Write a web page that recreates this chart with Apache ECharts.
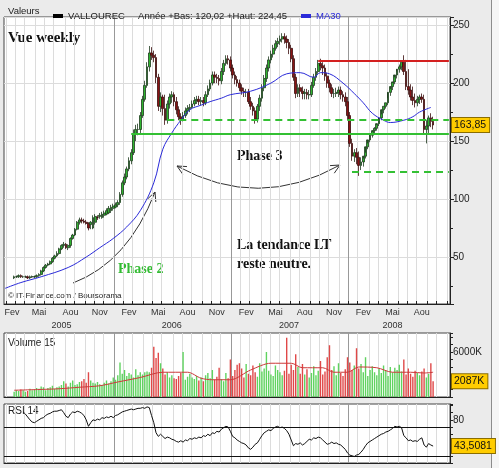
<!DOCTYPE html>
<html>
<head>
<meta charset="utf-8">
<script src="https://cdn.jsdelivr.net/npm/echarts@6/dist/echarts.min.js"></script>
<style>
  html, body { margin: 0; padding: 0; background: #ebebeb; }
  #chart { width: 499px; height: 468px; }
</style>
</head>
<body>
<div id="chart"></div>
<script>
// weekly categories: Friday dates from the left edge of the chart
const weekStart = Date.UTC(2005, 0, 28)
const weekCount = 198
const DAY = 86400000
const weeks = []
for (let i = 0; i < weekCount; i++) {
  weeks.push(new Date(weekStart + i * 7 * DAY).toISOString().slice(0, 10))
}
const weekOf = (d) => weeks[Math.round((Date.parse(d) - weekStart) / (7 * DAY))]

const monthNames = ['Jan', 'Fev', 'Mar', 'Avr', 'Mai', 'Jun', 'Jul', 'Aou', 'Sep', 'Oct', 'Nov', 'Dec']
const labelMonths = [1, 4, 7, 10]
const yearLabelWeeks = ['2005-07-22', '2006-06-30', '2007-06-29', '2008-05-16']

// VALLOUREC weekly candles (first candle = week index 4)
const firstCandleWeek = 4
const opens = [
  32, 33, 33, 34, 33, 33, 33, 32, 33, 33,
  33, 34, 35, 38, 41, 43, 44, 46, 49, 51,
  53, 57, 60, 61, 58, 60, 66, 69, 74, 80,
  82, 81, 80, 79, 78, 75, 80, 84, 85, 84,
  86, 87, 88, 90, 92, 93, 95, 97, 104, 114,
  119, 126, 133, 140, 156, 160, 160, 172, 186, 198,
  214, 226, 224, 222, 205, 180, 188, 178, 168, 182,
  188, 190, 184, 177, 171, 169, 172, 176, 178, 179,
  182, 185, 186, 184, 185, 183, 190, 195, 200, 207,
  205, 204, 202, 210, 217, 221, 220, 213, 207, 203,
  200, 196, 193, 192, 192, 184, 180, 176, 169, 180,
  187, 196, 204, 213, 220, 225, 230, 234, 236, 238,
  240, 238, 235, 230, 221, 205, 191, 196, 193, 191,
  192, 190, 190, 198, 205, 210, 217, 215, 213, 206,
  200, 196, 191, 191, 192, 194, 190, 188, 184, 172,
  148, 137, 140, 136, 129, 132, 137, 145, 151, 155,
  159, 161, 165, 170, 177, 180, 183, 192, 197, 201,
  207, 212, 214, 218, 210, 197, 194, 188, 185, 183,
  186, 188, 186, 160, 163, 170, 167
]
const closes = [
  33, 33, 34, 33, 33, 33, 32, 33, 33, 33,
  34, 35, 38, 41, 43, 44, 46, 49, 51, 53,
  57, 60, 61, 58, 60, 66, 69, 74, 80, 82,
  81, 80, 79, 75, 80, 84, 85, 84, 86, 87,
  88, 90, 92, 93, 94, 95, 97, 104, 114, 119,
  126, 133, 140, 156, 160, 160, 172, 186, 198, 214,
  226, 224, 222, 205, 180, 188, 178, 168, 182, 188,
  190, 184, 177, 171, 169, 172, 176, 178, 179, 182,
  185, 186, 184, 185, 183, 190, 195, 200, 207, 205,
  204, 202, 210, 217, 221, 220, 213, 207, 203, 200,
  196, 193, 192, 192, 184, 180, 176, 169, 180, 187,
  196, 204, 213, 220, 225, 230, 234, 236, 238, 240,
  238, 235, 230, 221, 205, 191, 196, 193, 191, 192,
  190, 190, 198, 205, 210, 217, 215, 213, 206, 200,
  196, 191, 191, 192, 194, 190, 188, 184, 172, 148,
  137, 140, 136, 129, 132, 137, 145, 151, 155, 159,
  161, 165, 170, 177, 180, 183, 192, 197, 201, 207,
  212, 214, 218, 210, 197, 194, 188, 185, 183, 186,
  188, 186, 160, 163, 170, 167, 163.85
]
const lows = [
  31, 32, 32, 32, 32, 32, 31, 31, 32, 32,
  32, 33, 34, 37, 40, 42, 43, 45, 48, 50,
  52, 56, 58, 57, 56, 58, 65, 68, 73, 78,
  79, 79, 78, 73, 74, 74, 78, 82, 83, 83,
  84, 86, 87, 88, 90, 92, 93, 95, 102, 112,
  117, 124, 130, 138, 150, 155, 157, 170, 184, 196,
  210, 220, 218, 200, 176, 175, 172, 164, 165, 178,
  183, 180, 173, 168, 164, 167, 170, 173, 175, 178,
  180, 182, 181, 181, 180, 181, 188, 193, 198, 200,
  200, 198, 199, 207, 215, 216, 210, 204, 199, 197,
  193, 190, 188, 188, 182, 177, 172, 165, 166, 176,
  184, 193, 201, 210, 217, 222, 228, 231, 233, 235,
  234, 230, 225, 218, 202, 187, 188, 188, 186, 186,
  186, 186, 188, 196, 202, 208, 211, 207, 202, 196,
  192, 188, 187, 188, 188, 186, 184, 180, 168, 145,
  133, 132, 130, 120, 125, 128, 135, 143, 149, 153,
  157, 159, 163, 168, 174, 178, 181, 189, 194, 199,
  204, 209, 211, 207, 194, 190, 185, 181, 179, 180,
  182, 183, 156, 148, 157, 162, 160
]
const highs = [
  34, 34, 35, 35, 34, 34, 34, 34, 34, 34,
  35, 36, 39, 42, 44, 45, 47, 50, 52, 55,
  58, 61, 63, 62, 61, 67, 70, 75, 81, 84,
  84, 83, 82, 80, 81, 86, 87, 86, 88, 89,
  90, 92, 94, 95, 96, 97, 99, 106, 116, 122,
  128, 136, 143, 160, 164, 165, 175, 189, 202, 218,
  232, 231, 228, 225, 208, 192, 190, 190, 185, 191,
  193, 192, 188, 180, 174, 175, 179, 181, 182, 185,
  188, 189, 189, 188, 188, 193, 198, 203, 210, 210,
  208, 207, 213, 220, 224, 224, 223, 216, 210, 206,
  203, 199, 196, 195, 195, 188, 183, 179, 182, 190,
  199, 207, 216, 223, 228, 233, 237, 239, 241, 243,
  243, 241, 238, 233, 224, 208, 199, 199, 197, 195,
  195, 194, 201, 208, 213, 220, 221, 218, 216, 209,
  203, 199, 195, 196, 197, 197, 193, 192, 188, 175,
  152, 143, 144, 141, 136, 135, 140, 148, 154, 158,
  162, 164, 168, 173, 180, 183, 187, 195, 200, 205,
  210, 216, 218, 224, 220, 212, 199, 197, 191, 189,
  190, 191, 190, 168, 172, 174, 171
]
// weekly volume, thousands of shares
const volumes = [
  700, 900, 800, 1000, 900, 700, 800, 1100, 900, 1000,
  1200, 1100, 1400, 1300, 900, 1200, 1300, 1500, 1100, 1300,
  1400, 1600, 2100, 1800, 1400, 1900, 2200, 1600, 1700, 2000,
  2100, 2400, 1900, 3300, 2200, 1900, 1800, 2000, 1700, 1600,
  1900, 2200, 1800, 2100, 2600, 2300, 2900, 4600, 3100, 3600,
  2800, 3200, 3000, 2600, 3700, 2900, 3300, 3000, 3300, 3400,
  3300, 3900, 6700, 5200, 5900, 4500, 3800, 3000, 3300, 2600,
  2900, 2500, 2400, 2800, 3200, 6000, 2300, 2700, 3100, 2600,
  2400, 2800, 2200, 2600, 2100, 2900, 3200, 2500, 3600, 2300,
  2700, 3900, 2400, 2100, 3200, 2500, 5000, 2800, 3600, 4300,
  4500, 3800, 2600, 4400, 3100, 2900, 4200, 3300, 2700, 4500,
  3400, 3800, 6000, 3500, 3000, 2800, 4200, 3600, 3300, 2900,
  3500, 7900, 3100, 4300, 3600, 5700, 4000, 3100, 4400, 3000,
  3700, 2600, 3200, 4100, 2900, 3500, 4800, 3000, 3400, 5300,
  6900, 3600, 4100, 2900, 4500, 3200, 2800, 3700, 5300, 4600,
  3600, 4200, 6500, 3800, 4400, 3300, 5300, 2800, 3600, 4100,
  3300, 2900, 3800, 3200, 4200, 3500, 2800, 4000, 3300, 3900,
  3600, 4300, 3400, 5000, 3000, 3800, 3100, 2700, 3500, 3200,
  2900, 3400, 3800, 2600, 3100, 4500, 2087
]
// MA30 of the price, [week index, value]
const ma30Points = [
  [0, 23], [7, 28], [16, 33], [28, 41], [36, 50], [42, 58], [48, 66], [54, 76],
  [60, 90], [66, 114], [70, 143], [74, 157], [78, 168], [82, 177], [87, 181],
  [91, 184], [96, 187], [100, 190], [109, 193], [118, 200], [125, 208], [131, 209],
  [137, 205], [140, 209], [144, 208], [150, 200], [155, 191], [159, 183], [163, 174],
  [168, 168], [171, 166], [177, 168], [181, 171], [184, 175], [189, 179]
]
// volume moving average (15), [week index, value in K]
const volMaPoints = [
  [4, 900], [15, 1000], [24, 1100], [33, 1300], [42, 1500], [50, 2000], [60, 2600],
  [70, 3300], [81, 3300], [87, 2500], [92, 2300], [100, 2300], [109, 3600], [118, 4500],
  [127, 4500], [132, 3900], [141, 3900], [146, 3300], [152, 3300], [157, 4000],
  [165, 3900], [172, 3300], [180, 3300], [186, 3200], [190, 3300]
]
// RSI 14 (first value = week index 8)
const firstRsiWeek = 8
const rsi = [
  91, 88, 84, 80, 77, 76, 78, 80, 82, 83,
  86, 88, 89, 91, 92, 92, 93, 94, 90, 85,
  83, 88, 91, 90, 92, 91, 89, 86, 80, 71,
  76, 80, 79, 81, 80, 83, 82, 84, 83, 85,
  83, 86, 87, 89, 91, 92, 93, 94, 95, 94,
  95, 96, 96, 97, 96, 98, 97, 86, 76, 62,
  57, 60, 57, 54, 56, 55, 53, 52, 50, 49,
  51, 49, 52, 51, 54, 53, 55, 54, 56, 55,
  58, 57, 60, 58, 62, 61, 64, 63, 67, 69,
  71, 70, 64, 57, 55, 52, 50, 48, 47, 45,
  41, 39, 42, 46, 48, 53, 58, 62, 64, 66,
  65, 68, 70, 71, 69, 70, 68, 65, 60, 52,
  44, 47, 46, 48, 45, 47, 50, 53, 52, 55,
  54, 56, 55, 52, 49, 46, 47, 49, 47, 48,
  46, 45, 42, 39, 34, 31, 30, 29, 31, 32,
  35, 39, 44, 48, 50, 52, 54, 56, 58, 60,
  61, 63, 64, 66, 68, 71, 70, 71, 69, 58,
  55, 51, 52, 50, 51, 50, 53, 55, 45, 42,
  47, 45, 43.5081
]

// levels drawn on the price panel
const resistanceLevel = 219
const resistanceFrom = '2007-09-28'
const supportLevel = 156
const supportFrom = '2006-02-24'
const upperDashLevel = 168.5
const upperDashFrom = '2006-06-16'
const lowerDashLevel = 123.5
const lowerDashFrom = '2008-01-11'
const lastPrice = 163.85
const lastVolume = 2087
const lastRsi = 43.5081
const rsiBands = [70, 30]

const font = '"Liberation Sans", Arial, sans-serif'
const serif = '"Liberation Serif", "DejaVu Serif", serif'

const isMonthStart = (i) => +weeks[i].slice(8) <= 7
const isYearStart = (i) => weeks[i].slice(5, 7) === '01' && isMonthStart(i)
const isMidMonth = (i) => {
  const d = +weeks[i].slice(8)
  const m = +weeks[i].slice(5, 7) - 1
  return d >= 13 && d <= 19 && labelMonths.includes(m)
}

const candleData = weeks.map((_, i) => {
  const k = i - firstCandleWeek
  if (k < 0 || k >= closes.length) return ['-', '-', '-', '-']
  return [opens[k], closes[k], lows[k], highs[k]]
})
const volumeData = weeks.map((_, i) => {
  const k = i - firstCandleWeek
  if (k < 0 || k >= volumes.length) return '-'
  return {
    value: volumes[k],
    itemStyle: { color: closes[k] >= opens[k] ? '#5fd35f' : '#e04848' }
  }
})
const rsiData = weeks.map((_, i) => {
  const k = i - firstRsiWeek
  return k >= 0 && k < rsi.length ? rsi[k] : '-'
})
const lastWeek = weeks[weekCount - 1]

const grids = [
  { left: 4, right: 49, top: 17, height: 287 },
  { left: 4, right: 49, top: 333, height: 64 },
  { left: 4, right: 49, top: 404, height: 59 }
].map((g) => ({ ...g, show: true, backgroundColor: '#fff', borderColor: '#444', borderWidth: 1 }))

function monthAxis(gridIndex, withLabels) {
  return {
    type: 'category', gridIndex, data: weeks, position: 'bottom',
    axisLine: { lineStyle: { color: '#222' } },
    axisTick: { show: withLabels, inside: true, length: 3, interval: isMonthStart, lineStyle: { color: '#222' } },
    axisLabel: {
      show: withLabels, interval: isMidMonth, margin: 4,
      fontFamily: font, fontSize: 9, color: '#333',
      formatter: (v) => monthNames[+v.slice(5, 7) - 1]
    },
    splitLine: { show: true, interval: isMonthStart, lineStyle: { color: '#dcdcdc', width: 1 } }
  }
}
function yearAxis(gridIndex, withLabels) {
  return {
    type: 'category', gridIndex, data: weeks, position: 'bottom', offset: 13,
    axisLine: { show: false }, axisTick: { show: false },
    axisLabel: {
      show: withLabels, interval: (i, v) => yearLabelWeeks.includes(v), margin: 4,
      fontFamily: font, fontSize: 9, color: '#333', formatter: (v) => v.slice(0, 4)
    },
    splitLine: { show: true, interval: isYearStart, lineStyle: { color: '#999', width: 1 } }
  }
}

// value tag shown on the right axis
function valueTag(value, text) {
  return {
    yAxis: value,
    lineStyle: { color: 'rgba(0,0,0,0)', width: 0 },
    label: {
      show: true, position: 'end', distance: 2, formatter: text,
      backgroundColor: '#ffcc00', borderColor: '#8a6d00', borderWidth: 1,
      padding: [2, 3, 1, 2], fontFamily: font, fontSize: 10.5, color: '#111'
    }
  }
}

function arrowHead(tip, from, len) {
  const a = Math.atan2(tip[1] - from[1], tip[0] - from[0])
  const s = 0.45
  return [
    [tip[0] - len * Math.cos(a - s), tip[1] - len * Math.sin(a - s)],
    tip,
    [tip[0] - len * Math.cos(a + s), tip[1] - len * Math.sin(a + s)]
  ]
}
const arrowStyle = { stroke: '#333', lineWidth: 1, fill: null }
const phase2 = { p0: [73, 283], c: [128, 262], p2: [155, 192] }
const phase3 = { p0: [177, 166], c: [258, 211], p2: [340, 165] }

const option = {
  backgroundColor: '#ebebeb',
  animation: false,
  legend: {
    left: 48, top: 6, itemWidth: 10, itemHeight: 4, itemGap: 14,
    selectedMode: false,
    textStyle: { fontFamily: font, fontSize: 9.5, color: '#222' },
    formatter: (n) => n === 'VALLOUREC' ? 'VALLOUREC     Année +Bas: 120,02 +Haut: 224,45' : n,
    data: [
      { name: 'VALLOUREC', icon: 'rect', itemStyle: { color: '#000', borderWidth: 0 } },
      { name: 'MA30', icon: 'rect', itemStyle: { color: '#2b2bd9' }, textStyle: { color: '#2b2bd9' } }
    ]
  },
  grid: grids,
  xAxis: [monthAxis(0, true), yearAxis(0, true), monthAxis(1, false), yearAxis(1, false), monthAxis(2, false), yearAxis(2, false)],
  yAxis: [
    {
      type: 'value', gridIndex: 0, position: 'right', min: 9.5, max: 257, splitNumber: 5,
      axisLine: { show: true, lineStyle: { color: '#222' } },
      axisTick: { show: true, length: 4, lineStyle: { color: '#222' } },
      minorTick: { show: true, splitNumber: 2, length: 3, lineStyle: { color: '#222' } },
      axisLabel: { showMinLabel: false, showMaxLabel: false, margin: 3, fontFamily: font, fontSize: 10, color: '#222' },
      splitLine: { lineStyle: { color: '#dcdcdc' } }
    },
    {
      type: 'value', gridIndex: 1, position: 'right', min: 0, max: 8530, interval: 1000,
      axisLine: { show: true, lineStyle: { color: '#222' } },
      axisTick: { show: true, length: 3, lineStyle: { color: '#222' } },
      axisLabel: { margin: 3, fontFamily: font, fontSize: 10, color: '#222', formatter: (v) => v === 6000 ? '6000K' : '' },
      splitLine: { show: false }
    },
    {
      type: 'value', gridIndex: 2, position: 'right', min: 20, max: 102, interval: 10,
      axisLine: { show: true, lineStyle: { color: '#222' } },
      axisTick: { show: true, length: 3, lineStyle: { color: '#222' } },
      axisLabel: { margin: 3, fontFamily: font, fontSize: 10, color: '#222', formatter: (v) => v === 80 ? '80' : '' },
      splitLine: { show: false }
    }
  ],
  series: [
    {
      name: 'VALLOUREC', type: 'candlestick', xAxisIndex: 0, yAxisIndex: 0,
      data: candleData, barWidth: 2.2,
      itemStyle: { color: '#2fb52f', color0: '#8a1414', borderColor: '#1e3a1e', borderColor0: '#3a0c0c', borderWidth: 0.8 },
      markLine: {
        silent: true, symbol: 'none', label: { show: false },
        data: [
          [{ coord: [weekOf(resistanceFrom), resistanceLevel], lineStyle: { color: '#d42020', width: 2, type: 'solid' } }, { coord: [lastWeek, resistanceLevel] }],
          [{ coord: [weekOf(supportFrom), supportLevel], lineStyle: { color: '#33c033', width: 2, type: 'solid' } }, { coord: [lastWeek, supportLevel] }],
          [{ coord: [weekOf(upperDashFrom), upperDashLevel], lineStyle: { color: '#33c033', width: 2, type: [7, 5] } }, { coord: [lastWeek, upperDashLevel] }],
          [{ coord: [weekOf(lowerDashFrom), lowerDashLevel], lineStyle: { color: '#33c033', width: 2, type: [7, 5] } }, { coord: [lastWeek, lowerDashLevel] }],
          valueTag(lastPrice, '163,85')
        ]
      }
    },
    {
      name: 'MA30', type: 'line', xAxisIndex: 0, yAxisIndex: 0, smooth: 0.4,
      showSymbol: false, data: ma30Points.map(([i, v]) => [weeks[i], v]),
      lineStyle: { color: '#2b2bd9', width: 1 }, itemStyle: { color: '#2b2bd9' }
    },
    {
      name: 'Volume', type: 'bar', xAxisIndex: 2, yAxisIndex: 1, barWidth: 1.4,
      data: volumeData,
      markLine: { silent: true, symbol: 'none', data: [valueTag(lastVolume, '2087K')] }
    },
    {
      name: 'VolMA', type: 'line', xAxisIndex: 2, yAxisIndex: 1, smooth: 0.3, showSymbol: false,
      data: volMaPoints.map(([i, v]) => [weeks[i], v]),
      lineStyle: { color: '#cc3a3a', width: 1 }
    },
    {
      name: 'RSI', type: 'line', xAxisIndex: 4, yAxisIndex: 2, showSymbol: false,
      data: rsiData, lineStyle: { color: '#111', width: 1 },
      markLine: {
        silent: true, symbol: 'none', label: { show: false },
        lineStyle: { color: '#111', width: 1, type: 'solid' },
        data: rsiBands.map((v) => ({ yAxis: v })).concat([valueTag(lastRsi, '43,5081')])
      }
    }
  ],
  graphic: [
    { type: 'rect', shape: { x: 492, y: 0, width: 7, height: 468 }, style: { fill: '#f5f5f5' }, z: -1 },
    { type: 'line', shape: { x1: 491.5, y1: 0, x2: 491.5, y2: 468 }, style: { stroke: '#8c8c8c', lineWidth: 1 } },
    { type: 'text', left: 8, top: 6, style: { text: 'Valeurs', font: '9.5px ' + font, fill: '#222' } },
    { type: 'text', left: 8, top: 31, style: { text: 'Vue weekly', font: 'bold 15px ' + serif, fill: '#111' } },
    { type: 'text', left: 237, top: 149, style: { text: 'Phase 3', font: 'bold 14px ' + serif, fill: '#111' } },
    { type: 'text', left: 118, top: 262, style: { text: 'Phase 2', font: 'bold 14px ' + serif, fill: '#33bb33' } },
    { type: 'text', left: 237, top: 238, style: { text: 'La tendance LT', font: 'bold 14px ' + serif, fill: '#111' } },
    { type: 'text', left: 237, top: 257, style: { text: 'reste neutre.', font: 'bold 14px ' + serif, fill: '#111' } },
    { type: 'text', left: 8, top: 292, style: { text: '© IT-Finance.com / Boursorama', font: '8px ' + font, fill: '#222' } },
    { type: 'text', left: 8, top: 338, style: { text: 'Volume 15', font: '10px ' + font, fill: '#222' } },
    { type: 'text', left: 8, top: 406, style: { text: 'RSI 14', font: '10px ' + font, fill: '#222' } },
    { type: 'bezierCurve', shape: { x1: phase2.p0[0], y1: phase2.p0[1], cpx1: phase2.c[0], cpy1: phase2.c[1], x2: phase2.p2[0], y2: phase2.p2[1] }, style: arrowStyle },
    { type: 'polyline', shape: { points: arrowHead(phase2.p2, phase2.c, 10) }, style: arrowStyle },
    { type: 'bezierCurve', shape: { x1: phase3.p0[0], y1: phase3.p0[1], cpx1: phase3.c[0], cpy1: phase3.c[1], x2: phase3.p2[0], y2: phase3.p2[1] }, style: arrowStyle },
    { type: 'polyline', shape: { points: arrowHead(phase3.p0, phase3.c, 10) }, style: arrowStyle },
    { type: 'polyline', shape: { points: arrowHead(phase3.p2, phase3.c, 10) }, style: arrowStyle }
  ]
}

const chart = echarts.init(document.getElementById('chart'), null, { renderer: 'canvas' })
chart.setOption(option)
</script>
</body>
</html>
